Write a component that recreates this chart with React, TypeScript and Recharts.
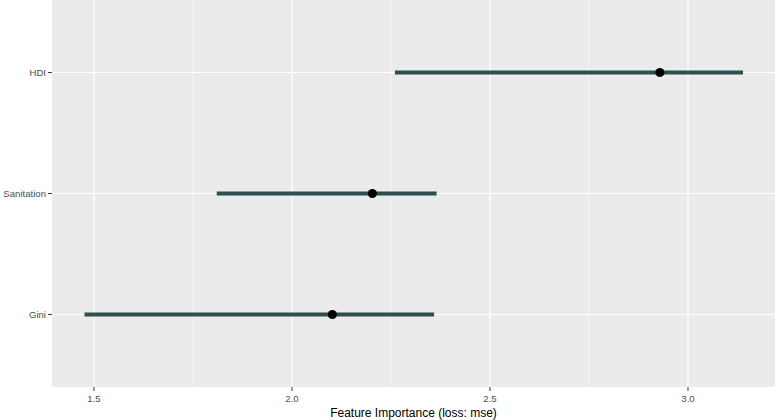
import React from 'react';
import { ScatterChart, Scatter, XAxis, YAxis, ZAxis, CartesianGrid, ErrorBar, ReferenceLine } from 'recharts';

const features = ['Gini', 'Sanitation', 'HDI'];
const importance = [2.102, 2.203, 2.929];
const lower = [1.476, 1.81, 2.26];
const upper = [2.359, 2.365, 3.139];
const xTicks = [1.5, 2.0, 2.5, 3.0];
const xMinor = [1.75, 2.25, 2.75];

const data = features.map((f, i) => ({
  feature: f,
  pos: i + 1,
  value: importance[i],
  err: [importance[i] - lower[i], upper[i] - importance[i]],
}));

const FONT = '"Liberation Sans", Arial, sans-serif';

export default function App() {
  return (
    <div style={{ position: 'absolute', left: 0, top: 0, fontFamily: FONT }}>
      <ScatterChart width={777} height={420} margin={{ top: 0, right: 2, bottom: 0, left: 0 }}>
        <CartesianGrid fill="#EBEBEB" stroke="#FFFFFF" strokeWidth={1.1} verticalValues={xTicks} horizontalValues={[1, 2, 3]} />
        {xMinor.map((v) => (
          <ReferenceLine key={v} x={v} stroke="#FFFFFF" strokeWidth={0.55} ifOverflow="extendDomain" />
        ))}
        <XAxis
          type="number"
          dataKey="value"
          domain={[1.394, 3.2197]}
          ticks={xTicks}
          tickFormatter={(v: number) => v.toFixed(1)}
          allowDataOverflow
          axisLine={false}
          tickLine={{ stroke: '#333333', strokeWidth: 1 }}
          tickSize={4}
          tickMargin={4}
          height={33}
          tick={{ fill: '#4D4D4D', fontSize: 9.6, fontFamily: FONT }}
          label={{ value: 'Feature Importance (loss: mse)', position: 'insideBottom', offset: 3.5, fill: '#000000', fontSize: 12, fontFamily: FONT }}
        />
        <YAxis
          type="number"
          dataKey="pos"
          domain={[0.4, 3.6]}
          ticks={[1, 2, 3]}
          tickFormatter={(v: number) => features[v - 1] ?? ''}
          allowDataOverflow
          axisLine={false}
          tickLine={{ stroke: '#333333', strokeWidth: 1 }}
          tickSize={4}
          tickMargin={2}
          width={52}
          tick={{ fill: '#4D4D4D', fontSize: 9.6, fontFamily: FONT }}
        />
        <ZAxis range={[40, 40]} />
        <Scatter data={data} fill="#000000" shape="circle" isAnimationActive={false}>
          <ErrorBar dataKey="err" direction="x" width={0} stroke="#2F4F4F" strokeWidth={4} isAnimationActive={false} />
        </Scatter>
      </ScatterChart>
    </div>
  );
}
